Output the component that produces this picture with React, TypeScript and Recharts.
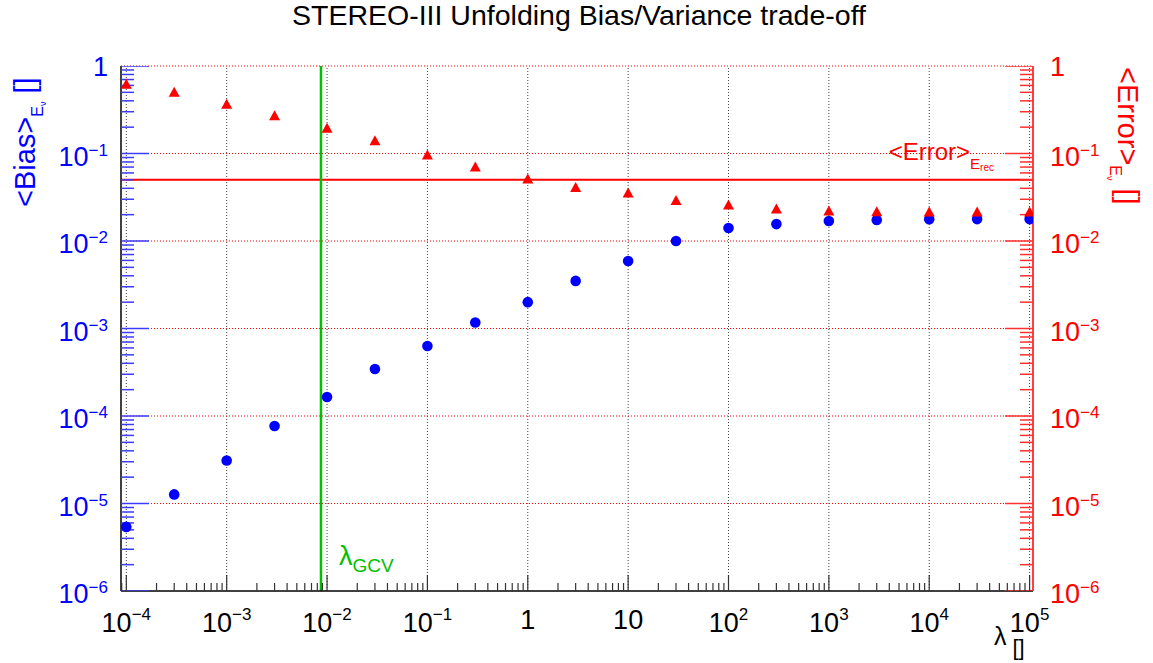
import React from "react";
import { ScatterChart, Scatter, XAxis, YAxis, ReferenceLine } from "recharts";

// regularisation strengths (x) and the two figures of merit
const lambdaValues = [1e-4, 3e-4, 1e-3, 3e-3, 1e-2, 3e-2, 1e-1, 3e-1, 1, 3, 10, 30, 1e2, 3e2, 1e3, 3e3, 1e4, 3e4, 1e5];
const biasValues = [5.4e-6, 1.27e-5, 3.1e-5, 7.7e-5, 1.65e-4, 3.45e-4, 6.3e-4, 1.17e-3, 2.0e-3, 3.5e-3, 5.9e-3, 1.0e-2, 1.41e-2, 1.56e-2, 1.69e-2, 1.74e-2, 1.77e-2, 1.78e-2, 1.78e-2];
const errorValues = [0.62, 0.5, 0.365, 0.27, 0.194, 0.14, 0.096, 0.07, 0.051, 0.041, 0.0354, 0.029, 0.0258, 0.0232, 0.022, 0.0216, 0.0215, 0.0215, 0.0215];

const errorLevel = 0.05; // <Error>_Erec reference
const lambdaGCV = 0.0087;

const xDecades = [-4, -3, -2, -1, 0, 1, 2, 3, 4, 5];
const yDecades = [-5, -4, -3, -2, -1, 0];

const X_DOMAIN: [number, number] = [Math.pow(10, -4.053), Math.pow(10, 5.034)];
const Y_DOMAIN: [number, number] = [1e-6, 1];

const FONT = "'Liberation Sans', Arial, Helvetica, sans-serif";
const BLUE = "#0000ff";
const RED = "#ff0000";
const GREEN = "#00c000";
const TICK_BLUE = "#3c3cff";
const TICK_RED = "#ff3030";

const data = lambdaValues.map((l, i) => ({ lambda: l, bias: biasValues[i], error: errorValues[i] }));

function logTicks(lo: number, hi: number) {
  const out: number[] = [];
  for (let e = Math.floor(Math.log10(lo)); e <= Math.ceil(Math.log10(hi)); e++) {
    for (let m = 1; m <= 9; m++) {
      const v = m * Math.pow(10, e);
      if (v >= lo * 0.9999 && v <= hi * 1.0001) out.push(v);
    }
  }
  return out;
}

const xTicks = logTicks(X_DOMAIN[0], X_DOMAIN[1]);
const yTicks = logTicks(Y_DOMAIN[0], Y_DOMAIN[1]);

const isDecade = (v: number) => Math.abs(Math.log10(v) - Math.round(Math.log10(v))) < 1e-6;

// y-axis tick marks, placed on the frame edges through the scales
const leftTickData = yTicks.map((v) => ({ lambda: X_DOMAIN[0], bias: v, major: isDecade(v) }));
const rightTickData = yTicks.map((v) => ({ lambda: X_DOMAIN[1], error: v, major: isDecade(v) }));

function powerText(e: number, supSize: number, supDy: number) {
  if (e === 0) return "1";
  if (e === 1) return "10";
  return (
    <>
      10
      <tspan dy={supDy} fontSize={supSize}>
        {e < 0 ? "\u2212" + -e : String(e)}
      </tspan>
    </>
  );
}

const XTick = (props: any) => {
  const { x, y, payload } = props;
  const v = payload.value;
  const major = isDecade(v);
  const e = Math.round(Math.log10(v));
  return (
    <g>
      <line x1={x} y1={y} x2={x} y2={y - (major ? 16 : 8)} stroke="#333" strokeWidth={1.2} />
      {major && (
        <text x={x} y={y + (e === 0 || e === 1 ? 38 : 41)} textAnchor="middle" fontSize={27} fill="#000" fontFamily={FONT}>
          {powerText(e, 17, -12)}
        </text>
      )}
    </g>
  );
};

const makeYLabel = (side: "left" | "right") => (props: any) => {
  const { x, y, payload } = props;
  const v = payload.value;
  const e = Math.round(Math.log10(v));
  const color = side === "left" ? BLUE : RED;
  const plain = e === 0 || e === 1;
  return (
    <g>
      {isDecade(v) && (
        <text
          x={side === "left" ? x - 13 : x + 17}
          y={y + (plain ? 9.5 : 12)}
          textAnchor={side === "left" ? "end" : "start"}
          fontSize={27}
          fill={color}
          fontFamily={FONT}
        >
          {powerText(e, 17, -10)}
        </text>
      )}
    </g>
  );
};

const LeftLabel = makeYLabel("left");
const RightLabel = makeYLabel("right");

const LeftTickMark = (props: any) => {
  const { cx, cy, payload } = props;
  const len = payload && payload.major ? 28 : 13;
  return (
    <g>
      <line x1={cx} y1={cy} x2={cx + len} y2={cy} stroke={TICK_BLUE} strokeWidth={1.5} />
    </g>
  );
};

const RightTickMark = (props: any) => {
  const { cx, cy, payload } = props;
  const len = payload && payload.major ? 28 : 13;
  return (
    <g>
      <line x1={cx - len} y1={cy} x2={cx} y2={cy} stroke={TICK_RED} strokeWidth={1.5} />
    </g>
  );
};

const Dot = (props: any) => <circle cx={props.cx} cy={props.cy} r={5.3} fill={BLUE} />;
const Tri = (props: any) => {
  const { cx, cy } = props;
  return <polygon points={`${cx},${cy - 5.5} ${cx - 5.5},${cy + 4.5} ${cx + 5.5},${cy + 4.5}`} fill={RED} />;
};

const box = (extra: React.CSSProperties): React.CSSProperties => ({
  position: "absolute",
  whiteSpace: "nowrap",
  lineHeight: 1,
  fontFamily: FONT,
  pointerEvents: "none",
  ...extra,
});

const shift = (size: number, top: number): React.CSSProperties => ({ fontSize: size, position: "relative", top });

export default function App() {
  return (
    <div style={{ position: "absolute", left: 0, top: 0, width: 1153, height: 663, background: "#fff" }}>
      <ScatterChart width={1153} height={663} margin={{ top: 66, right: 60, bottom: 32, left: 61 }}>
        <XAxis dataKey="lambda" type="number" scale="log" domain={X_DOMAIN} allowDataOverflow ticks={xTicks} interval={0} tick={<XTick />} tickLine={false} tickSize={0} tickMargin={0} height={40} axisLine={{ stroke: "#000", strokeWidth: 1.5 }} />
        <YAxis yAxisId="left" dataKey="bias" type="number" scale="log" domain={Y_DOMAIN} allowDataOverflow ticks={yTicks} interval={0} tick={<LeftLabel />} tickLine={false} tickSize={0} tickMargin={0} width={60} axisLine={{ stroke: "#000", strokeWidth: 1.5 }} />
        <YAxis yAxisId="right" orientation="right" dataKey="error" type="number" scale="log" domain={Y_DOMAIN} allowDataOverflow ticks={yTicks} interval={0} tick={<RightLabel />} tickLine={false} tickSize={0} tickMargin={0} width={60} axisLine={{ stroke: RED, strokeWidth: 1.5 }} />
        {xDecades.map((e) => (
          <ReferenceLine key={"vx" + e} x={Math.pow(10, e)} yAxisId="left" stroke="#444" strokeDasharray="1 2" />
        ))}
        {yDecades.map((e) => (
          <ReferenceLine key={"hy" + e} y={Math.pow(10, e)} yAxisId="left" stroke={RED} strokeDasharray="1 2" />
        ))}
        <ReferenceLine y={errorLevel} yAxisId="right" stroke={RED} strokeWidth={2} />
        <ReferenceLine x={lambdaGCV} yAxisId="left" stroke={GREEN} strokeWidth={2.5} />
        <Scatter data={leftTickData} yAxisId="left" shape={<LeftTickMark />} isAnimationActive={false} />
        <Scatter data={rightTickData} yAxisId="right" shape={<RightTickMark />} isAnimationActive={false} />
        <Scatter data={data} yAxisId="left" shape={<Dot />} isAnimationActive={false} />
        <Scatter data={data} yAxisId="right" shape={<Tri />} isAnimationActive={false} />
      </ScatterChart>

      <div style={box({ left: 2.5, top: 1, width: 1153, textAlign: "center", fontSize: 28.5, color: "#000" })}>
        STEREO-III Unfolding Bias/Variance trade-off
      </div>

      <div style={box({ left: 10.5, top: 207, fontSize: 29, color: BLUE, transform: "rotate(-90deg)", transformOrigin: "0 0" })}>
        &lt;Bias&gt;
        <span style={shift(16, 8)}>E</span>
        <span style={shift(9, 11)}>ν</span>
        <span style={{ marginLeft: 8 }}>[]</span>
      </div>

      <div style={box({ left: 1141.5, top: 67, fontSize: 29, color: RED, transform: "rotate(90deg)", transformOrigin: "0 0" })}>
        &lt;Error&gt;
        <span style={shift(16, 8)}>E</span>
        <span style={shift(9, 11)}>ν</span>
        <span style={{ marginLeft: 8 }}>[]</span>
      </div>

      <div style={box({ left: 339, top: 543, fontSize: 27, color: GREEN })}>
        λ<span style={shift(19, 7)}>GCV</span>
      </div>

      <div style={box({ right: 159, top: 140, fontSize: 24, color: RED, textAlign: "right" })}>
        &lt;Error&gt;
        <span style={shift(15, 9)}>E</span>
        <span style={shift(10, 11)}>rec</span>
      </div>

      <div style={box({ left: 994, top: 624, fontSize: 25, color: "#000" })}>
        λ<span style={{ ...shift(22, 10), marginLeft: 6 }}>[]</span>
      </div>
    </div>
  );
}
